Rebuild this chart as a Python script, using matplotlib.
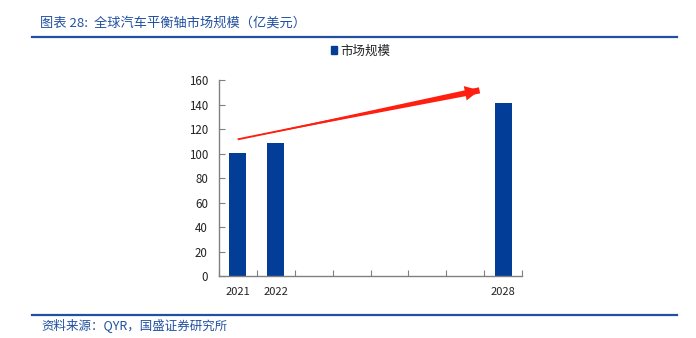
import numpy as np
import matplotlib.pyplot as plt
from matplotlib.lines import Line2D
from matplotlib.patches import FancyArrowPatch, Patch

plt.rcParams['font.family'] = ['Noto Sans CJK SC', 'DejaVu Sans']

# market size by year (100M USD); only 2021, 2022 and 2028 are reported
years = ['2021', '2022', '2023', '2024', '2025', '2026', '2027', '2028']
market_size = [100.6, 108.3, np.nan, np.nan, np.nan, np.nan, np.nan, 141.0]
shown_years = ['2021', '2022', '2028']

title = '图表 28:  全球汽车平衡轴市场规模（亿美元）'
source = '资料来源：QYR，国盛证券研究所'
series_name = '市场规模'

bar_color = '#023E98'
frame_blue = '#2150A0'
axis_gray = '#808080'
arrow_red = '#FF1E10'

fig = plt.figure(figsize=(6.96, 3.38), dpi=100)
ax = fig.add_axes([0.3147, 0.1834, 0.4353, 0.5799])

x = np.arange(len(years))
ax.bar(x, market_size, width=0.45, color=bar_color)

ax.set_xlim(-0.5, len(years) - 0.5)
ax.set_ylim(0, 160)
ax.set_yticks(range(0, 161, 20))

# tick marks sit on category boundaries, labels only under reported years
ax.set_xticks(np.arange(-0.5, len(years)))
ax.set_xticklabels([])
label_pos = [years.index(y) for y in shown_years]
ax.set_xticks(label_pos, minor=True)
ax.set_xticklabels(shown_years, minor=True)
ax.tick_params(axis='x', which='major', direction='in', length=4,
               color=axis_gray)
ax.tick_params(axis='x', which='minor', length=0, pad=8, labelsize=8,
               labelcolor='#222222')
ax.tick_params(axis='y', direction='in', length=4, color=axis_gray, pad=8,
               labelsize=8.3, labelcolor='#222222')

for side in ('top', 'right'):
    ax.spines[side].set_visible(False)
for side in ('left', 'bottom'):
    ax.spines[side].set_color(axis_gray)
    ax.spines[side].set_linewidth(1.0)

# growth arrow from above the first bar toward the last one:
# a wedge shaft that widens toward the head, plus the head itself
i0, i1 = label_pos[0], label_pos[-1]
start = (i0 - 0.08, market_size[i0] + 10.5)
end = (i1 - 0.55, market_size[i1] + 11)
shaft = FancyArrowPatch(end, start, arrowstyle='wedge,tail_width=4.5,shrink_factor=0.5',
                        color=arrow_red, lw=0, mutation_scale=1.0,
                        clip_on=False)
ax.add_patch(shaft)
head = FancyArrowPatch(start, end,
                       arrowstyle='simple,head_width=7,head_length=7,tail_width=0.9',
                       color=arrow_red, lw=0, mutation_scale=1.5,
                       clip_on=False)
ax.add_patch(head)

leg = ax.legend(handles=[Patch(color=bar_color, label=series_name)],
                loc='center left', bbox_to_anchor=(0.466, 0.849),
                bbox_transform=fig.transFigure, frameon=False,
                handlelength=0.55, handleheight=0.55, handletextpad=0.2,
                fontsize=9, borderpad=0)
for t in leg.get_texts():
    t.set_color('#222222')

fig.text(0.057, 0.932, title, fontsize=9.5, color=frame_blue, va='center')
fig.add_artist(Line2D([0.046, 0.973], [0.891, 0.891], color=frame_blue,
                      lw=1.6, transform=fig.transFigure))
fig.add_artist(Line2D([0.046, 0.973], [0.068, 0.068], color=frame_blue,
                      lw=1.6, transform=fig.transFigure))
fig.text(0.06, 0.035, source, fontsize=9, color=frame_blue, va='center')

fig.savefig('out.png', dpi=100)
